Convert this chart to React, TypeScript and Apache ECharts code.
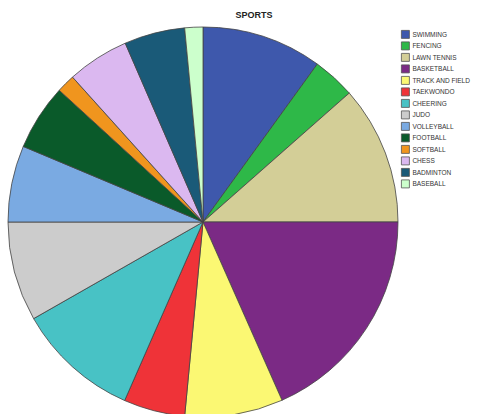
import React, { useEffect, useRef } from "react";
import * as echarts from "echarts";

const categories = [
  "SWIMMING", "FENCING", "LAWN TENNIS", "BASKETBALL", "TRACK AND FIELD",
  "TAEKWONDO", "CHEERING", "JUDO", "VOLLEYBALL", "FOOTBALL",
  "SOFTBALL", "CHESS", "BADMINTON", "BASEBALL",
];
const values = [35.9, 12.7, 41.4, 66.1, 29.3, 18.3, 36.6, 29.7, 22.8, 19.7, 5.5, 18.5, 18.1, 5.4];
const colors = [
  "#3e58ac", "#2eb848", "#d3ce97", "#7b2a85", "#fbf873",
  "#ef3338", "#48c2c5", "#cccccc", "#7aaae2", "#0a5a2a",
  "#f0951e", "#dbb8f0", "#1a5a78", "#ccffcc",
];

export default function App() {
  const ref = useRef<HTMLDivElement>(null);
  useEffect(() => {
    const chart = echarts.init(ref.current!, null, { renderer: "svg" });
    chart.setOption({
      animation: false,
      backgroundColor: "#ffffff",
      title: {
        text: "SPORTS",
        left: 254,
        top: 10,
        padding: 0,
        textAlign: "center",
        textStyle: { fontSize: 9, fontWeight: "bold", color: "#222", fontFamily: "Liberation Sans" },
      },
      legend: {
        orient: "vertical",
        left: 401,
        top: 30,
        padding: 0,
        itemWidth: 8,
        itemHeight: 8,
        itemGap: 2.7,
        icon: "rect",
        data: categories,
        textStyle: { fontSize: 6.5, color: "#333", fontFamily: "Liberation Sans", padding: [0, 0, 0, -2] },
        itemStyle: { borderColor: "#555", borderWidth: 0.8 },
      },
      series: [
        {
          type: "pie",
          center: [203, 222],
          radius: 195,
          startAngle: 90,
          clockwise: true,
          label: { show: false },
          labelLine: { show: false },
          emphasis: { disabled: true },
          itemStyle: { borderColor: "#444", borderWidth: 0.8 },
          data: categories.map((c, i) => ({
            name: c,
            value: values[i],
            itemStyle: { color: colors[i] },
          })),
        },
      ],
    });
    return () => chart.dispose();
  }, []);
  return (
    <div
      ref={ref}
      style={{ position: "fixed", left: 0, top: 0, width: 488, height: 414 }}
    />
  );
}
